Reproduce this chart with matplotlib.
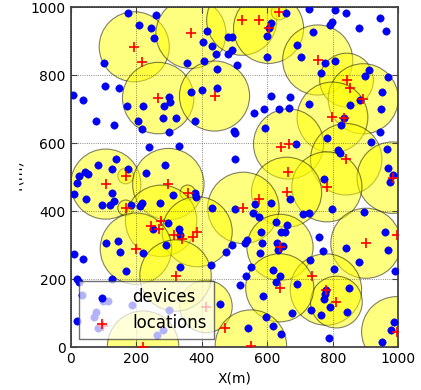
import matplotlib
matplotlib.use('Agg')
import matplotlib.pyplot as plt
from matplotlib.patches import Rectangle

plt.rcParams["font.family"] = 'DejaVu Sans'

# devices (m)
dev_x = [175, 260, 207, 245, 255, 415, 403, 431, 443, 406, 354, 103, 447, 8, 39, 106, 147, 367, 402, 447,
         171, 222, 301, 304, 286, 283, 320, 77, 132, 205, 217, 299, 378, 240, 331, 137, 83, 127, 175, 229,
         289, 44, 54, 24, 19, 126, 10, 312, 380, 383, 47,
         656, 728, 806, 839, 945, 963, 881, 791, 799, 741, 611, 605, 599, 481, 492, 491, 481, 509, 599, 690,
         702, 775, 808, 765, 910, 898, 968, 611, 668, 561, 591, 636, 666, 728, 852, 882, 950, 948, 834, 826,
         592, 497, 500, 782, 943, 689, 817, 822, 917, 965, 500, 969, 983, 974, 774, 670,
         431, 500, 555, 562, 611, 574, 627, 661, 710, 726, 797, 895, 580, 538, 533, 642, 654, 585, 630, 649,
         491, 474, 579, 633, 759, 769, 960, 970, 839, 879, 730, 803, 991, 550, 429, 616, 640, 535, 626, 517,
         690, 849, 778, 777, 773, 588, 455, 734, 790, 675, 764, 843, 595, 616, 540, 642, 788, 950, 986, 977,
         133, 97, 120, 184, 218, 213, 272, 250, 296, 331, 334, 292, 108, 144, 150, 222, 10, 39, 168, 334,
         125, 18, 24, 20, 100, 34, 115, 76, 72, 83, 186, 262, 300, 283]
dev_y = [984, 976, 947, 939, 911, 931, 898, 886, 862, 841, 835, 835, 819, 741, 727, 768, 763, 752, 758, 764,
         711, 710, 735, 722, 710, 674, 674, 667, 655, 665, 643, 634, 665, 588, 592, 555, 535, 525, 524, 514,
         537, 517, 510, 504, 484, 455, 451, 448, 455, 443, 435,
         984, 996, 992, 984, 970, 931, 939, 949, 956, 926, 955, 939, 915, 914, 914, 874, 864, 830, 853, 889,
         853, 835, 841, 806, 816, 798, 796, 739, 737, 690, 700, 700, 705, 715, 714, 726, 752, 700, 674, 654,
         645, 636, 629, 615, 634, 599, 581, 572, 604, 584, 555, 527, 507, 485, 495, 437,
         410, 406, 396, 421, 423, 382, 370, 361, 392, 395, 407, 398, 339, 316, 307, 338, 338, 306, 306, 299,
         300, 280, 278, 286, 323, 284, 339, 285, 293, 251, 257, 230, 225, 235, 243, 228, 210, 210, 193, 182,
         185, 175, 169, 157, 143, 151, 126, 110, 120, 100, 95, 104, 90, 64, 57, 39, 26, 15, 75, 51,
         429, 418, 419, 418, 423, 416, 425, 347, 365, 349, 329, 302, 308, 314, 280, 276, 275, 259, 223, 235,
         201, 201, 191, 78, 136, 153, 136, 105, 90, 56, 124, 36, 110, 51]

# locations (m) and coverage radius (m), 0 = no circle drawn
loc_x = [194, 219, 367, 267, 439, 168, 107, 298, 357,
         522, 574, 636, 604, 754, 842, 854, 893, 799, 833, 643, 665, 841, 664, 983, 782, 659, 574,
         527, 639, 901, 995, 736, 779, 811, 638, 413, 470, 550, 995,
         168, 245, 270, 276, 314, 340, 372, 386, 199, 320, 99, 221]
loc_y = [884, 839, 923, 733, 739, 504, 480, 480, 455,
         962, 962, 986, 938, 845, 786, 764, 731, 676, 673, 589, 598, 553, 516, 499, 472, 456, 437,
         410, 294, 306, 330, 209, 170, 133, 175, 120, 56, 5, 46,
         410, 357, 349, 372, 329, 320, 325, 340, 290, 211, 64, 2]
radius = [107, 0, 107, 109, 107, 24, 107, 109, 23,
          107, 0, 24, 107, 107, 82, 0, 107, 108, 0, 0, 107, 109, 0, 109, 107, 107, 0,
          109, 101, 107, 0, 0, 109, 79, 104, 80, 0, 109, 107,
          24, 0, 0, 109, 0, 0, 0, 107, 109, 109, 0, 109]

ticks = [0, 200, 400, 600, 800, 1000]

fig = plt.figure(figsize=(4.21, 3.90), dpi=100)
ax = fig.add_axes([70.7 / 421, 1 - 347.3 / 390, 327.6 / 421, 340 / 390])
ax.set_xlim(0, 1000)
ax.set_ylim(0, 1000)

# circle size in points from the x scale of the axes
pts_per_m = (327.6 * 72 / 100) / 1000
cx = [x for x, r in zip(loc_x, radius) if r > 0]
cy = [y for y, r in zip(loc_y, radius) if r > 0]
cs = [(2 * r * pts_per_m) ** 2 for r in radius if r > 0]
ax.scatter(cx, cy, s=cs, c='yellow', alpha=0.5, edgecolors='k', linewidths=0.8, zorder=1)

ax.scatter(dev_x, dev_y, s=28, c='b', edgecolors='#0000cc', linewidths=0.4, zorder=3, label='devices')
ax.scatter(loc_x, loc_y, s=55, c='r', marker='+', linewidths=1.2, zorder=4, label='locations')

ax.set_xticks(ticks)
ax.set_yticks(ticks)
ax.grid(True, color='k', linestyle=':', linewidth=0.6, alpha=0.6)
ax.set_axisbelow(False)
ax.tick_params(direction='in', length=4, top=True, right=True, labelsize=10, color='#444444')
for sp in ax.spines.values():
    sp.set_color('#444444')
    sp.set_linewidth(1.3)
ax.set_xlabel('X(m)', fontsize=10)
ax.set_ylabel('Y(m)', fontsize=10)

leg = ax.legend(loc='lower left', scatterpoints=1, fontsize=12, fancybox=False, framealpha=0.7,
                edgecolor='#333333')
leg.set_zorder(10)

# the left strip of the original image hides most of the y label
fig.add_artist(Rectangle((0, 0), 18 / 421, 1, transform=fig.transFigure, color='white', zorder=20))

fig.savefig('out.png', dpi=100)
